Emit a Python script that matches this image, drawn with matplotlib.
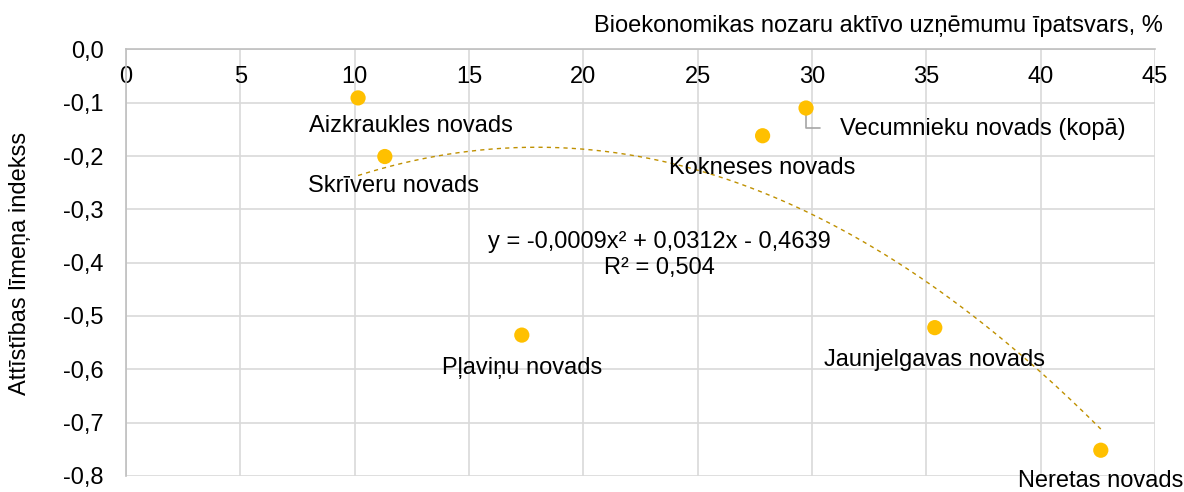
import numpy as np
import matplotlib.pyplot as plt
from matplotlib.ticker import FuncFormatter

plt.rcParams['font.family'] = ['Liberation Sans', 'DejaVu Sans']

# dati no attēla
novadi = ["Aizkraukles novads", "Skrīveru novads", "Pļaviņu novads", "Kokneses novads",
          "Vecumnieku novads (kopā)", "Jaunjelgavas novads", "Neretas novads"]
ipatsvars = [10.15, 11.32, 17.31, 27.84, 29.74, 35.37, 42.63]
indekss = [-0.091, -0.201, -0.536, -0.162, -0.110, -0.522, -0.752]

# etiķešu nobīdes (punktos) attiecībā pret punktu
nobides = [(38, -20), (6, -21), (0, -24), (0, -23), (127, -15), (0, -23), (0, -22)]

x_ticks = [0, 5, 10, 15, 20, 25, 30, 35, 40, 45]
y_ticks = [0.0, -0.1, -0.2, -0.3, -0.4, -0.5, -0.6, -0.7, -0.8]

FS = 17

fig = plt.figure(figsize=(11.84, 4.92), dpi=100)
ax = fig.add_axes([0.1064, 0.0329, 0.8691, 0.8667])

x = np.array(ipatsvars)
y = np.array(indekss)

# polinoma trenda līnija (2. pakāpe)
coef = np.polyfit(x, y, 2)
xs = np.linspace(x.min(), x.max(), 200)
ax.plot(xs, np.polyval(coef, xs), color='#BF9000', lw=1.0, ls=(0, (3, 3)), zorder=2)

ax.scatter(x, y, s=120, color='#FFC000', edgecolors='none', zorder=3)

for nos, xi, yi, (dx, dy) in zip(novadi, x, y, nobides):
    ax.annotate(nos, (xi, yi), xytext=(dx, dy), textcoords='offset points',
                ha='center', va='center', fontsize=FS, color='#000000', zorder=4)

# Vecumnieku novada vadlīnija
ax.annotate('', xy=(ipatsvars[4], indekss[4]), xytext=(ipatsvars[4] + 0.6, indekss[4] - 0.0375),
            arrowprops=dict(arrowstyle='-', color='#A6A6A6', lw=1.2, shrinkA=0, shrinkB=0,
                            connectionstyle='angle,angleA=0,angleB=90,rad=0'), zorder=2)

fig.text(0.557, 0.481, 'y = -0,0009x² + 0,0312x - 0,4639\nR² = 0,504',
         ha='center', va='center', fontsize=FS, linespacing=1.25)

ax.set_xlim(0, 45)
ax.set_ylim(-0.8, 0.0)
ax.set_xticks(x_ticks)
ax.set_yticks(y_ticks)
ax.yaxis.set_major_formatter(FuncFormatter(lambda v, p: f"{v:.1f}".replace('.', ',')))

ax.xaxis.tick_top()
ax.tick_params(axis='x', length=0, labelsize=FS, pad=-28)
ax.tick_params(axis='y', length=0, labelsize=FS, pad=16)

ax.grid(True, color='#D9D9D9', lw=1.2, zorder=0)
ax.set_axisbelow(True)
for side in ['right', 'bottom']:
    ax.spines[side].set_visible(False)
for side in ['left', 'top']:
    ax.spines[side].set_color('#BFBFBF')
    ax.spines[side].set_linewidth(1.2)

fig.text(0.982, 0.947, 'Bioekonomikas nozaru aktīvo uzņēmumu īpatsvars, %', ha='right',
         va='center', fontsize=FS)
fig.text(0.017, 0.465, 'Attīstības līmeņa indekss', rotation=90, ha='center', va='center',
         fontsize=FS)

fig.savefig('out.png', dpi=100)
